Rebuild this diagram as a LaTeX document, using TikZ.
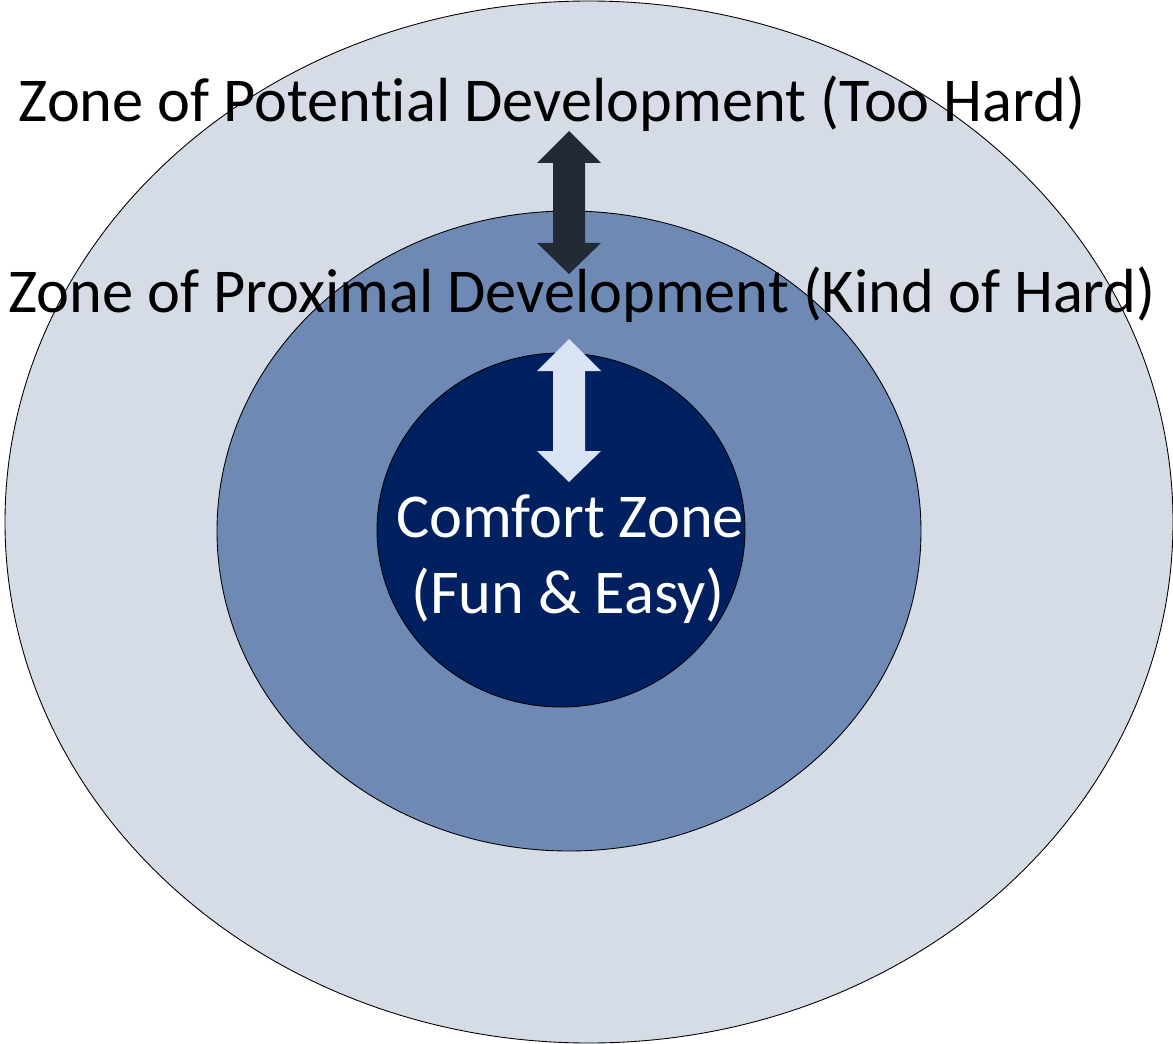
\documentclass[tikz,border=0pt]{standalone}
\usepackage{fontspec}
\setmainfont{Carlito}[Ligatures=NoCommon]
\usetikzlibrary{positioning}
\definecolor{outerzone}{HTML}{D6DCE5}
\definecolor{midzone}{HTML}{6F89B5}
\definecolor{innerzone}{HTML}{002060}
\definecolor{darkarrow}{HTML}{222A35}
\definecolor{lightarrow}{HTML}{DAE3F3}
\tikzset{zone/.style={draw=black, line width=0.5pt},
  zonelabel/.style={anchor=base, inner sep=0pt, font=\fontsize{35.5}{40}\selectfont}}

\begin{document}
\begin{tikzpicture}[x=0.02cm, y=-0.02cm]
			\useasboundingbox (0,0) rectangle (1173,1044);
			% the three zones
			\filldraw [zone, fill=outerzone] (589,522) ellipse [x radius=584, y radius=521];
			\filldraw [zone, fill=midzone] (569,531) ellipse [x radius=352, y radius=320];
			\filldraw [zone, fill=innerzone] (561,530) ellipse [x radius=184, y radius=177];
			\node [zonelabel] (potential) at (552,122) {Zone of Potential Development (Too Hard)};
			\node [zonelabel] (proximal) at (582,313) {Zone of Proximal Development (Kind of Hard)};
			\node [zonelabel, text=white] (comfort) at (570,537) {Comfort Zone};
			\node [zonelabel, text=white] (easy) at (568,613) {(Fun \& Easy)};
			% block arrows
			\fill [darkarrow] (537,163) -- (569,131) -- (601,163) -- (585,163) -- (585,243) -- (601,243) -- (569,274) -- (537,243) -- (553,243) -- (553,163) -- cycle;
			\fill [lightarrow] (537,371) -- (569,339) -- (601,371) -- (585,371) -- (585,451) -- (601,451) -- (569,482) -- (537,451) -- (553,451) -- (553,371) -- cycle;
		\end{tikzpicture}
\end{document}
